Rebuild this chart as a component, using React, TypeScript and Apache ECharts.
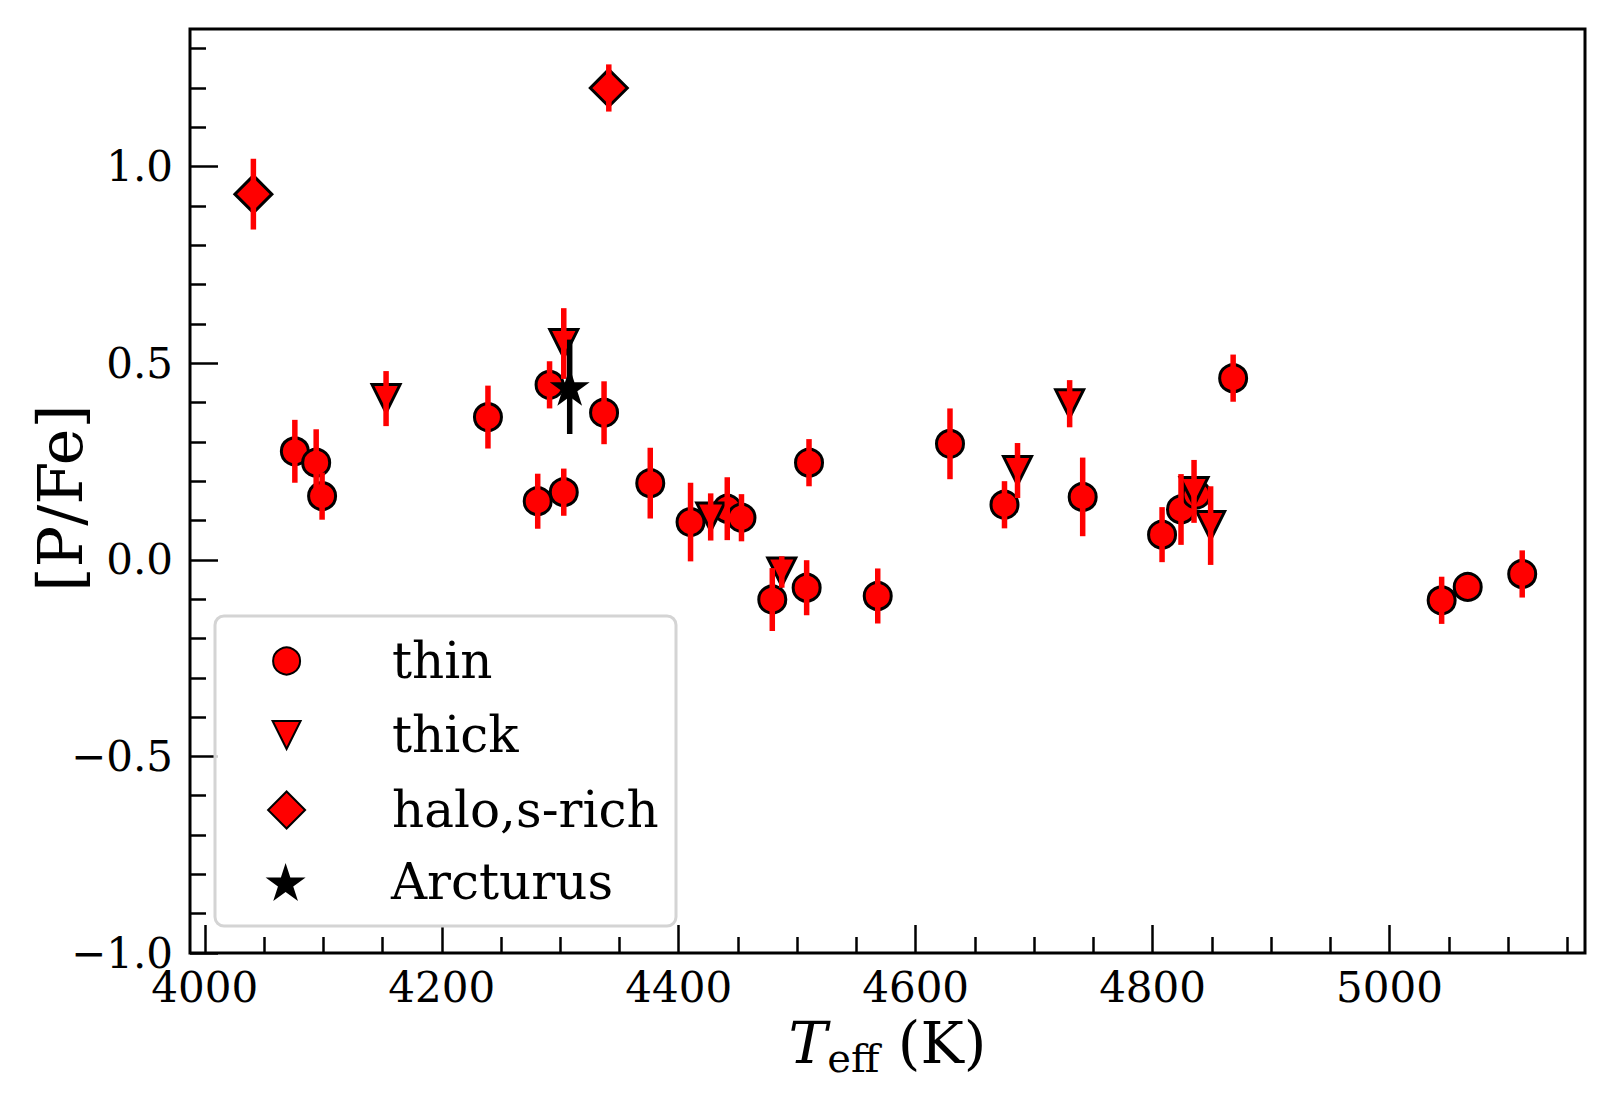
import React, { useEffect, useRef } from 'react';
import * as echarts from 'echarts';

// ---- data ----
const thinTeff = [4076, 4094, 4099, 4239, 4281, 4291, 4303, 4337, 4376, 4410, 4441, 4453, 4479, 4508, 4510, 4568, 4629, 4675, 4741, 4808, 4824, 4837, 4868, 5044, 5066, 5112];
const thinPFe = [0.276, 0.247, 0.162, 0.363, 0.149, 0.445, 0.172, 0.374, 0.195, 0.096, 0.13, 0.107, -0.101, -0.071, 0.247, -0.092, 0.295, 0.14, 0.16, 0.064, 0.128, 0.166, 0.462, -0.103, -0.069, -0.036];
const thinErr = [0.08, 0.085, 0.06, 0.08, 0.07, 0.06, 0.06, 0.08, 0.09, 0.1, 0.08, 0.06, 0.08, 0.07, 0.06, 0.07, 0.09, 0.06, 0.1, 0.07, 0.09, 0, 0.06, 0.06, 0, 0.06];

const thickTeff = [4153, 4303, 4427, 4487, 4686, 4730, 4835, 4849];
const thickPFe = [0.41, 0.55, 0.109, -0.031, 0.227, 0.397, 0.174, 0.087];
const thickErr = [0.07, 0.09, 0.06, 0.04, 0.07, 0.06, 0.08, 0.1];

const haloTeff = [4041, 4341];
const haloPFe = [0.93, 1.2];
const haloErr = [0.09, 0.06];

const arcTeff = [4308];
const arcPFe = [0.44];
const arcErr = [0.12];

const xMajorTicks = [4000, 4200, 4400, 4600, 4800, 5000];
const xMinorTicks = [4050, 4100, 4150, 4250, 4300, 4350, 4450, 4500, 4550, 4650, 4700, 4750, 4850, 4900, 4950, 5050, 5100, 5150];
const yMajorTicks = [-1.0, -0.5, 0.0, 0.5, 1.0];
const yMinorTicks = [-0.9, -0.8, -0.7, -0.6, -0.4, -0.3, -0.2, -0.1, 0.1, 0.2, 0.3, 0.4, 0.6, 0.7, 0.8, 0.9, 1.1, 1.2, 1.3];

const X_MIN = 3987.5;
const X_MAX = 5165;
const Y_MIN = -1.0;
const Y_MAX = 1.35;

const FONT = 'DejaVu Serif';

const zip3 = (a: number[], b: number[], c: number[]) => a.map((v, i) => [v, b[i], c[i]]);

// star marker (matplotlib '*')
const starPts: string[] = [];
for (let i = 0; i < 10; i++) {
  const r = i % 2 === 0 ? 1 : 0.381966;
  const a = -Math.PI / 2 + (i * Math.PI) / 5;
  starPts.push(`${(r * Math.cos(a)).toFixed(4)},${(r * Math.sin(a)).toFixed(4)}`);
}
const STAR = 'path://M' + starPts.join('L') + 'Z';
const TRI_DOWN = 'path://M-1,-1L1,-1L0,1Z';
const DIAMOND = 'path://M0,-1L1,0L0,1L-1,0Z';

function errorBars(data: number[][], color: string, z: number) {
  return {
    type: 'custom',
    z,
    silent: true,
    clip: false,
    encode: { x: 0, y: 1 },
    data,
    renderItem: (_params: any, api: any) => {
      const x = api.value(0);
      const y = api.value(1);
      const e = api.value(2);
      if (!e) return null;
      const top = api.coord([x, y + e]);
      const bot = api.coord([x, y - e]);
      return {
        type: 'line',
        shape: { x1: top[0], y1: top[1], x2: bot[0], y2: bot[1] },
        style: { stroke: color, lineWidth: 5.5, lineCap: 'butt' },
      };
    },
  };
}

const fmtY = (v: number) => {
  const s = Math.abs(v).toFixed(1);
  return v < -1e-9 ? '\u2212' + s : s;
};

export default function App() {
  const ref = useRef<HTMLDivElement>(null);
  useEffect(() => {
    if (!ref.current) return;
    const chart = echarts.init(ref.current, undefined, { renderer: 'svg' });

    const tickStyle = { color: '#000', width: 2.5 };
    const labelBase = { fontFamily: FONT, fontSize: 42, color: '#000' };

    const legendCx = 285.6;
    const legendTextX = 391;
    const mkLegend = (name: string, icon: string, h: number, cy: number) => ({
      show: true,
      data: [{ name, icon }],
      orient: 'vertical',
      left: legendCx - h / 2,
      top: cy - 25,
      padding: 0,
      itemWidth: h,
      itemHeight: h,
      itemGap: 0,
      selectedMode: false,
      z: 11,
      textStyle: {
        fontFamily: FONT,
        fontSize: 50,
        color: '#000',
        padding: [0, 0, 0, legendTextX - (legendCx + h / 2 + 5)],
      },
    });

    const option: any = {
      animation: false,
      backgroundColor: '#ffffff',
      grid: {
        left: 190,
        right: 29,
        top: 29,
        bottom: 151,
        show: true,
        borderColor: '#000',
        borderWidth: 3,
        backgroundColor: 'transparent',
        containLabel: false,
        outerBoundsMode: 'none',
      },
      xAxis: [
        {
          type: 'value',
          min: X_MIN,
          max: X_MAX,
          position: 'bottom',
          axisLine: { show: false, onZero: false },
          splitLine: { show: false },
          axisTick: { show: true, inside: true, length: 28, lineStyle: tickStyle, customValues: xMajorTicks },
          axisLabel: { ...labelBase, margin: 13, customValues: xMajorTicks, formatter: (v: number) => String(v) },
          name: '{t|T}{s|eff}{n| (K)}',
          nameLocation: 'middle',
          nameGap: 55,
          nameTextStyle: {
            fontFamily: FONT,
            fontSize: 58,
            color: '#000',
            rich: {
              t: { fontFamily: FONT, fontStyle: 'italic', fontSize: 58, color: '#000' },
              s: { fontFamily: FONT, fontSize: 40, color: '#000', padding: [30, 0, 0, 0] },
              n: { fontFamily: FONT, fontSize: 58, color: '#000' },
            },
          },
        },
        {
          type: 'value',
          min: X_MIN,
          max: X_MAX,
          position: 'bottom',
          axisLine: { show: false, onZero: false },
          splitLine: { show: false },
          axisLabel: { show: false },
          axisTick: { show: true, inside: true, length: 16, lineStyle: tickStyle, customValues: xMinorTicks },
        },
      ],
      yAxis: [
        {
          type: 'value',
          min: Y_MIN,
          max: Y_MAX,
          position: 'left',
          axisLine: { show: false, onZero: false },
          splitLine: { show: false },
          axisTick: { show: true, inside: true, length: 28, lineStyle: tickStyle, customValues: yMajorTicks },
          axisLabel: { ...labelBase, margin: 17, customValues: yMajorTicks, formatter: fmtY },
          name: '[P/Fe]',
          nameLocation: 'middle',
          nameGap: 99,
          nameMoveOverlap: false,
          nameTextStyle: { fontFamily: FONT, fontSize: 62, color: '#000', padding: [0, 14, 0, 0] },
        },
        {
          type: 'value',
          min: Y_MIN,
          max: Y_MAX,
          position: 'left',
          axisLine: { show: false, onZero: false },
          splitLine: { show: false },
          axisLabel: { show: false },
          axisTick: { show: true, inside: true, length: 16, lineStyle: tickStyle, customValues: yMinorTicks },
        },
      ],
      legend: [
        mkLegend('thin', 'circle', 27, 661),
        mkLegend('thick', TRI_DOWN, 28, 735),
        mkLegend('halo,s-rich', DIAMOND, 37, 810),
        mkLegend('Arcturus', STAR, 40, 882),
      ],
      graphic: [
        {
          type: 'rect',
          z: 10,
          silent: true,
          shape: { x: 215, y: 616, width: 461, height: 310, r: 9 },
          style: { fill: 'rgba(255,255,255,0.8)', stroke: '#d4d4d4', lineWidth: 3 },
        },
      ],
      series: [
        {
          name: 'thin',
          type: 'scatter',
          z: 2,
          symbol: 'circle',
          symbolSize: 27,
          itemStyle: { color: '#ff0000', borderColor: '#000', borderWidth: 3, opacity: 1 },
          data: thinTeff.map((t, i) => [t, thinPFe[i]]),
        },
        {
          name: 'thick',
          type: 'scatter',
          z: 2,
          symbol: TRI_DOWN,
          symbolSize: 28,
          itemStyle: { color: '#ff0000', borderColor: '#000', borderWidth: 3, opacity: 1 },
          data: thickTeff.map((t, i) => [t, thickPFe[i]]),
        },
        {
          name: 'halo,s-rich',
          type: 'scatter',
          z: 2,
          symbol: DIAMOND,
          symbolSize: 37,
          itemStyle: { color: '#ff0000', borderColor: '#000', borderWidth: 3, opacity: 1 },
          data: haloTeff.map((t, i) => [t, haloPFe[i]]),
        },
        errorBars(zip3(thinTeff, thinPFe, thinErr), '#ff0000', 3),
        errorBars(zip3(thickTeff, thickPFe, thickErr), '#ff0000', 3),
        errorBars(zip3(haloTeff, haloPFe, haloErr), '#ff0000', 3),
        {
          name: 'Arcturus',
          type: 'scatter',
          z: 4,
          symbol: STAR,
          symbolSize: 40,
          symbolKeepAspect: true,
          itemStyle: { color: '#000000', borderWidth: 0, opacity: 1 },
          data: arcTeff.map((t, i) => [t, arcPFe[i]]),
        },
        errorBars(zip3(arcTeff, arcPFe, arcErr), '#000000', 4),
      ],
    };

    chart.setOption(option);
    return () => chart.dispose();
  }, []);

  return (
    <div
      ref={ref}
      style={{ position: 'absolute', left: 0, top: 0, width: 1614, height: 1104, background: '#fff' }}
    />
  );
}
